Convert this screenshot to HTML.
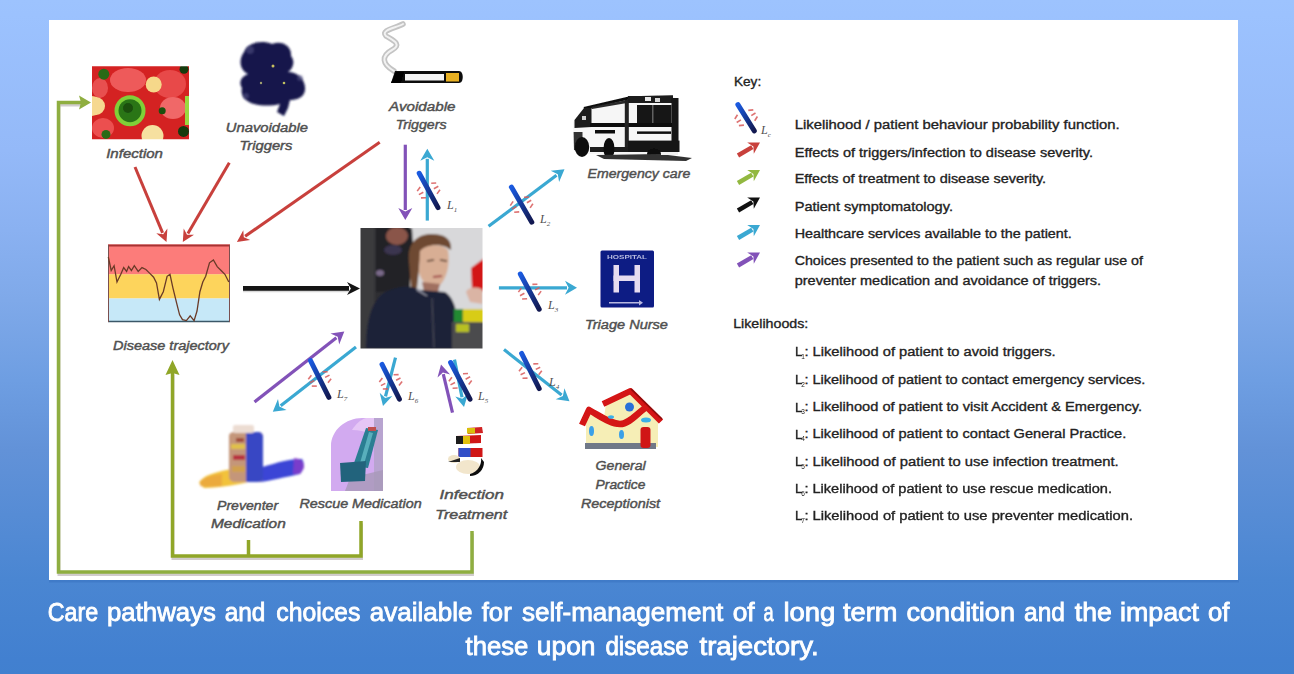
<!DOCTYPE html>
<html><head><meta charset="utf-8">
<style>
html,body{margin:0;padding:0;width:1294px;height:674px;overflow:hidden;}
body{background:linear-gradient(to bottom,#9dc3fe 0%,#9cc2fe 2.2%,#94b9f8 22.3%,#8ab1f1 34.1%,#7fa9e9 44.5%,#6e9ee2 56.4%,#6292d8 66.8%,#4a86d2 86%,#4280d0 97.9%,#4180cf 100%);font-family:"Liberation Sans",sans-serif;}
svg{position:absolute;left:0;top:0;filter:blur(0.45px);}
</style></head><body>
<svg width="1294" height="674" viewBox="0 0 1294 674">
<defs>
<filter id="bl" x="-5%" y="-5%" width="110%" height="110%"><feGaussianBlur stdDeviation="0.6"/></filter><filter id="bl2" x="-10%" y="-10%" width="120%" height="120%"><feGaussianBlur stdDeviation="1"/></filter>
<linearGradient id="lg" x1="0" y1="0" x2="1" y2="1"><stop offset="0" stop-color="#1a5ae0"/><stop offset="1" stop-color="#121850"/></linearGradient>
</defs>
<rect x="49" y="580" width="1190" height="2.5" fill="#2f66b8" opacity="0.35"/><rect x="49" y="20" width="1189" height="560" fill="#fff"/>
<clipPath id="infc"><rect x="92" y="66.3" width="97" height="73"/></clipPath><g clip-path="url(#infc)"><g filter="url(#bl)"><rect x="88" y="62" width="105" height="82" fill="#d42222"/><ellipse cx="128" cy="80" rx="18" ry="12" fill="#ee5a5a"/><ellipse cx="170" cy="84" rx="16" ry="14" fill="#e84848"/><ellipse cx="173" cy="108" rx="13" ry="11" fill="#f06868"/><ellipse cx="103" cy="128" rx="11" ry="10" fill="#ec5050"/><ellipse cx="100" cy="88" rx="8" ry="10" fill="#e85050"/><circle cx="153.7" cy="84.5" r="8" fill="#f6d88a"/><path d="M92,96 A10,10 0 0 1 92,116 Z" fill="#f6d890"/><circle cx="96" cy="106" r="9" fill="#f6d890"/><circle cx="152.5" cy="136" r="11" fill="#f6e0a0"/><circle cx="130" cy="110.7" r="15.5" fill="#80d038"/><circle cx="130" cy="110.7" r="11.5" fill="#2a7418"/><circle cx="128" cy="108" r="5" fill="#1a5010"/><circle cx="103.8" cy="74.2" r="5.5" fill="#2a6a18"/><circle cx="184" cy="69.3" r="4.5" fill="#143a10"/><circle cx="106" cy="134.4" r="4.5" fill="#2a6a18"/><circle cx="183.5" cy="131.4" r="5.5" fill="#143a10"/><circle cx="162.2" cy="110.7" r="3.5" fill="#1a5010"/><rect x="185" y="96" width="4" height="29" fill="#9ad840"/></g></g>
<g fill="#16174c" filter="url(#bl2)"><path d="M244,52 C248,42 262,40 272,44 C282,40 292,46 291,56 C296,62 292,70 288,72 C298,72 306,80 305,90 C304,98 296,100 290,100 L288,108 L284,116 L277,112 L280,104 C272,106 262,106 254,104 C246,102 240,96 242,88 C238,82 242,76 248,74 C240,70 238,60 244,52 Z"/></g><g fill="#5a5a8a" opacity="0.5" filter="url(#bl2)"><circle cx="250" cy="50" r="4"/><circle cx="300" cy="78" r="3"/><circle cx="246" cy="96" r="3"/></g><circle cx="273" cy="66" r="1.5" fill="#c8c060"/><circle cx="261" cy="83" r="1.2" fill="#a0a070"/><circle cx="284" cy="83" r="1.3" fill="#c0c060"/>
<g filter="url(#bl)"><path d="M394,71 C382,64 381,56 392,50 C403,44 392,40 386,36 C380,30 396,28 403,24" stroke="#c4c4c4" stroke-width="5.5" fill="none" stroke-linecap="round"/><path d="M394,71 C382,64 381,56 392,50 C403,44 392,40 386,36 C380,30 396,28 403,24" stroke="#f2f2f2" stroke-width="2" fill="none" stroke-linecap="round"/><path d="M395,71 L459,71 C464,71 464,83 459,83 L391,83 Z" fill="#111"/><rect x="405" y="74" width="39" height="6.5" fill="#f4f4f4"/><rect x="446" y="73" width="13" height="8.5" fill="#e8b020"/><path d="M391,83 L396,72 L404,72 L401,83 Z" fill="#000"/></g>
<g filter="url(#bl)"><path d="M573,122 L584,108 L630,97.5 L673,96.5 L678,100 L679,152 L660,154 L600,154 L588,154 L574,150 Z" fill="#f6f6f6"/><path d="M584,108.5 L630,97.8 L673,96.8" fill="none" stroke="#111" stroke-width="3"/><rect x="628" y="96" width="45" height="7" fill="#1a1a1a"/><rect x="645" y="97" width="6" height="4" fill="#e8e8e8"/><rect x="655" y="98" width="5" height="4" fill="#d8d8d8"/><rect x="671.5" y="98" width="7" height="50" fill="#151515"/><rect x="637" y="105" width="34.5" height="18.5" fill="#141414"/><rect x="652" y="105" width="1.5" height="18.5" fill="#606060"/><path d="M574.5,120 L584,108 L591.5,108 L591.5,127 L574.5,128 Z" fill="#1c1c1c"/><rect x="582" y="116" width="4" height="4" fill="#cfcfcf"/><path d="M591.5,107 L627,100 L627,103 L592,109 Z" fill="#2a2a2a"/><rect x="590" y="123" width="82" height="4" fill="#111"/><rect x="624.8" y="100" width="4" height="52" fill="#202020"/><rect x="595" y="130" width="20" height="3.5" fill="#111"/><rect x="637" y="131.4" width="34" height="2.5" fill="#111"/><rect x="628" y="140.6" width="51.5" height="11.4" fill="#151515"/><rect x="590" y="147" width="38" height="5" fill="#1a1a1a"/><path d="M573.6,132 L582.5,132 L582.5,152 L574,150 Z" fill="#333"/><ellipse cx="582" cy="147" rx="7.2" ry="10" fill="#0c0c0c"/><ellipse cx="609" cy="148.5" rx="5.5" ry="10.5" fill="#0c0c0c"/><ellipse cx="654" cy="154" rx="7" ry="5.5" fill="#0c0c0c"/><path d="M596,155 L660,154 L692,158 L686,161 L604,159 Z" fill="#333"/><rect x="661" y="152" width="17" height="3" fill="#f0f0f0"/></g>
<clipPath id="phc"><rect x="360.5" y="228" width="122" height="120.5"/></clipPath><g clip-path="url(#phc)"><g filter="url(#bl2)"><rect x="355" y="222" width="132" height="132" fill="#2e2e32"/><rect x="410" y="222" width="80" height="88" fill="#d8d8da"/><rect x="355" y="222" width="19.5" height="132" fill="#3a3a3c"/><path d="M376,228 L412,228 L414,262 L408,290 L376,292 Z" fill="#222026"/><ellipse cx="397" cy="236" rx="11" ry="9" fill="#8a5548"/><ellipse cx="393" cy="250" rx="9" ry="5" fill="#3a3450"/><ellipse cx="380" cy="273" rx="4" ry="3" fill="#7a6a8a"/><path d="M409,262 C407,242 418,234 432,234 C446,234 452,240 451,250 L446,247 C438,244 428,245 421,251 L417,288 L411,288 Z" fill="#6e4a30"/><path d="M420,251 C426,244 442,243 448,250 C450,262 448,278 439,286 C430,289 422,284 419,272 Z" fill="#d8ae94"/><path d="M427,261 L434,260 M440,260 L447,261" stroke="#4a3020" stroke-width="1.6"/><path d="M433,277 L442,276" stroke="#a04848" stroke-width="2"/><path d="M422,282 L440,284 L438,292 L424,292 Z" fill="#a07060"/><path d="M366,348.5 C366,320 372,300 385,292 C398,286 410,284 420,290 L445,292 C455,298 458,315 458,330 L456,348.5 Z" fill="#1e2438"/><path d="M416,290 L426,296 L428,296 L418,289 Z" fill="#9a9aaa"/><line x1="432" y1="298" x2="434" y2="348" stroke="#50505e" stroke-width="1"/><path d="M471,268 L487,256 L487,292 L472,290 Z" fill="#d21818"/><path d="M466,292 C469,286 480,287 482.5,290 L482.5,304 L470,302 Z" fill="#dab4a4"/><rect x="454" y="309" width="33" height="13" fill="#d8cc18"/><rect x="454" y="309" width="9" height="13" fill="#208a30"/><rect x="452" y="322" width="35" height="32" fill="#4c4c4e"/><rect x="456" y="324" width="13" height="8" fill="#b8c020"/><rect x="452" y="322" width="35" height="30" fill="#4c4c4e" opacity="0"/></g></g>
<g filter="url(#bl)"><rect x="108" y="244.5" width="122" height="30" fill="#fc7c7a"/><rect x="108" y="274.3" width="122" height="24.2" fill="#fdd45c"/><rect x="108" y="298.5" width="122" height="23.5" fill="#c6e8f8"/><line x1="108" y1="245.5" x2="230" y2="245.5" stroke="#a83232" stroke-width="2"/><line x1="108" y1="321.5" x2="230" y2="321.5" stroke="#3a5868" stroke-width="1.5"/><line x1="108.5" y1="245" x2="108.5" y2="322" stroke="#7a5050" stroke-width="1"/><line x1="229.5" y1="245" x2="229.5" y2="322" stroke="#7a5050" stroke-width="1"/><polyline points="108.3,257.0 111.2,270.5 114.1,265.7 117.0,282.0 120.8,274.3 123.7,267.6 126.6,271.4 128.6,266.6 131.4,270.5 134.3,265.7 138.2,271.4 142.0,267.6 145.9,269.5 149.8,273.4 153.6,277.2 156.5,283.0 159.4,299.4 163.3,291.7 167.1,276.3 170.0,274.3 172.9,287.8 176.7,303.3 179.6,314.8 182.5,319.6 186.4,320.6 190.2,315.8 194.1,320.6 197.0,311.0 199.9,291.7 202.8,282.0 205.7,276.3 209.5,262.8 213.4,259.9 217.2,266.6 221.1,270.5 224.9,274.3 228.8,282.0" fill="none" stroke="#6a3a28" stroke-width="1.3"/></g>
<g filter="url(#bl)"><rect x="600.5" y="250.5" width="53.5" height="57" fill="#0e1a84" rx="1.5"/><rect x="613.5" y="265" width="5.5" height="27.5" fill="#e6dcf0"/><rect x="634.5" y="265" width="5.5" height="27.5" fill="#e6dcf0"/><rect x="613.5" y="275.5" width="26" height="5.5" fill="#e6dcf0"/><text x="607" y="258.5" font-family="Liberation Sans" font-weight="bold" font-size="6" fill="#b8bce0" textLength="40" lengthAdjust="spacingAndGlyphs">HOSPITAL</text><rect x="609" y="302" width="30" height="1.5" fill="#b8b8e0"/><polygon points="639,300 643,302.7 639,305.5" fill="#b8b8e0"/></g>
<g filter="url(#bl)"><path d="M586,447 L586,418 L590,412 L620,425 L646,410 L658,421 L658,447 Z" fill="#f6eeb6"/><path d="M606,404 L630.5,392 L656,420 L646,410 L620,425 L604,417 Z" fill="#f6eeb6"/><rect x="585" y="443" width="71" height="6" fill="#707888"/><path d="M603,404 L630.5,391 L661,421.5" fill="none" stroke="#d41212" stroke-width="6" stroke-linejoin="round"/><path d="M582,425 L589,410 C600,416 610,424 620,424 C630,424 638,412 648,406" fill="none" stroke="#d41212" stroke-width="6.5" stroke-linejoin="round"/><path d="M631,389 L662,419" fill="none" stroke="#8a0808" stroke-width="1.5"/><rect x="640.5" y="427" width="10" height="21" fill="#d01818" rx="3"/><ellipse cx="591.5" cy="431" rx="2.5" ry="5" fill="#3aa0e8"/><ellipse cx="621.5" cy="434.5" rx="2.5" ry="4.5" fill="#3aa0e8"/><ellipse cx="629.5" cy="407" rx="4.5" ry="4.5" fill="#2a70d8"/><ellipse cx="646" cy="420" rx="5" ry="2.5" fill="#3ab0e8"/><ellipse cx="611" cy="417" rx="3" ry="1.8" fill="#3ab0e8"/></g>
<g filter="url(#bl2)"><path d="M199,483 C203,474 222,470 250,466 L262,478 C245,484 220,488 204,488 Z" fill="#f2c23a"/><path d="M200,482 C204,477 212,475 222,474 L222,486 C212,487 204,487 200,486 Z" fill="#e8a040" opacity="0.7"/><path d="M256,469 C272,464 290,458 302,459 C305,463 304,470 300,474 C285,477 270,481 260,482 Z" fill="#3a44d6"/><path d="M294,458 C300,458 305,462 304,468 L300,474 L293,474 Z" fill="#8a3cc8" opacity="0.8"/><path d="M229,436 C229,433 232,432 234,432 L258,432 C261,432 263,434 263,437 L263,478 C263,481 260,482 257,482 L235,482 C232,482 229,480 229,477 Z" fill="#c4967a"/><path d="M246,432 L258,432 C261,432 263,434 263,437 L263,478 C263,481 260,482 257,482 L246,482 Z" fill="#3846c4"/><rect x="231" y="444" width="14" height="5" fill="#e0c048"/><rect x="233" y="455" width="12" height="5" fill="#b83040"/><rect x="232" y="466" width="13" height="6" fill="#d0a050"/><rect x="236" y="438" width="8" height="4" fill="#a04838"/><rect x="233" y="425" width="21" height="8" fill="#ecdcd2" rx="2"/></g>
<g filter="url(#bl)"><rect x="331" y="418" width="52" height="73" fill="#d2aaf0"/><path d="M331,418 L362,418 C346,418 331,430 331,446 Z" fill="#ffffff"/><path d="M366,418 L383,418 L383,445 C376,436 366,430 352,430 C356,424 360,420 366,418 Z" fill="#e6c6f6"/><rect x="374" y="418" width="9" height="73" fill="#b8a4d0"/><path d="M350,478 L383,470 L383,491 L345,491 Z" fill="#a898b8" opacity="0.8"/><path d="M366,428 L378,430 L368,468 L353,466 Z" fill="#2a7e92"/><path d="M369,432 L373,433 L364,464 L360,463 Z" fill="#7ad0d8" opacity="0.6"/><path d="M340,463 L366,461 L365,481 L341,482 Z" fill="#24647c"/><rect x="368" y="427" width="8" height="4" fill="#c05050"/></g>
<g filter="url(#bl)"><path d="M467,428 L482,427 L483,433 L468,434 Z" fill="#d02020"/><rect x="467" y="428" width="8" height="5.5" fill="#d8c010"/><path d="M456,436 L481,435 L481,443 L456,444 Z" fill="#d01818"/><rect x="456" y="436" width="8" height="8" fill="#1a1a1a"/><rect x="463" y="436" width="7" height="8" fill="#e0c010"/><rect x="458.5" y="448" width="24" height="9" fill="#d01818"/><rect x="458.5" y="448" width="12" height="9" fill="#3050c8"/><ellipse cx="454" cy="459" rx="6" ry="4" fill="#f0e4c8"/><path d="M448,462 L460,458 L460,462 Z" fill="#222"/><ellipse cx="468" cy="467" rx="12" ry="7" fill="#f2e6cc"/><path d="M470,474 C478,472 482,464 481,458 L484,462 C484,470 478,476 470,476 Z" fill="#111"/></g>
<g transform="translate(0.5,2.5)" opacity="0.45"><polyline points="472,531 472,572 58.5,572 58.5,102.5 82,102.5" fill="none" stroke="#9a9090" stroke-width="3"/><polyline points="361,521 361,556 172.5,556 172.5,372" fill="none" stroke="#9a9090" stroke-width="3"/></g>
<polyline points="472,531 472,572 58.5,572 58.5,102.5 82,102.5" fill="none" stroke="#8fae40" stroke-width="3.5"/>
<polygon points="91,102.5 79,95.5 81,102.5 79,109.5" fill="#8fae40"/>
<polyline points="361,521 361,556 172.5,556 172.5,372" fill="none" stroke="#90a628" stroke-width="3.5"/>
<polyline points="248.5,540 248.5,556" fill="none" stroke="#90a628" stroke-width="3.5"/>
<polygon points="172.5,360 165.5,375 172.5,373 179.5,375" fill="#90a628"/>
<line x1="135.0" y1="167.0" x2="162.6" y2="232.8" stroke="#c8403c" stroke-width="3" />
<polygon points="166.5,242.0 156.3,233.3 163.2,234.3 167.4,228.6" fill="#c8403c"/>
<line x1="229.3" y1="162.7" x2="187.9" y2="233.4" stroke="#c8403c" stroke-width="3" />
<polygon points="182.8,242.0 183.7,228.6 187.0,234.8 194.0,234.7" fill="#c8403c"/>
<line x1="379.7" y1="142.2" x2="245.1" y2="236.3" stroke="#c8403c" stroke-width="3" />
<polygon points="236.9,242.0 243.3,230.2 243.8,237.2 250.2,240.0" fill="#c8403c"/>
<line x1="243" y1="291" x2="350" y2="291" stroke="#c8c8c8" stroke-width="2.5" opacity="0.7"/>
<line x1="243.0" y1="288.4" x2="349.0" y2="288.4" stroke="#151515" stroke-width="4.8" />
<polygon points="360.0,288.4 347.0,294.9 350.9,288.4 347.0,281.9" fill="#151515"/>
<line x1="405.3" y1="144.7" x2="405.3" y2="210.0" stroke="#8252b8" stroke-width="3.2" />
<polygon points="405.3,220.0 398.3,208.0 405.3,211.6 412.3,208.0" fill="#8252b8"/>
<line x1="254.5" y1="402.0" x2="336.4" y2="337.8" stroke="#8252b8" stroke-width="3.2" />
<polygon points="344.3,331.6 339.2,344.5 337.7,336.8 330.5,333.5" fill="#8252b8"/>
<line x1="452.5" y1="412.7" x2="443.3" y2="374.1" stroke="#8252b8" stroke-width="3.2" />
<polygon points="441.0,364.4 450.1,374.6 442.9,372.6 437.5,377.6" fill="#8252b8"/>
<line x1="427.3" y1="220.6" x2="427.3" y2="158.8" stroke="#3aa8d2" stroke-width="3.2" />
<polygon points="427.3,148.8 434.3,160.8 427.3,157.2 420.3,160.8" fill="#3aa8d2"/>
<line x1="488.6" y1="226.3" x2="556.5" y2="175.2" stroke="#3aa8d2" stroke-width="3.2" />
<polygon points="564.5,169.2 559.1,182.0 557.8,174.2 550.7,170.8" fill="#3aa8d2"/>
<line x1="498.9" y1="287.8" x2="567.0" y2="287.8" stroke="#3aa8d2" stroke-width="3.2" />
<polygon points="577.0,287.8 565.0,294.8 568.6,287.8 565.0,280.8" fill="#3aa8d2"/>
<line x1="504.0" y1="349.6" x2="561.6" y2="395.0" stroke="#3aa8d2" stroke-width="3.2" />
<polygon points="569.5,401.2 555.7,399.3 562.9,396.0 564.4,388.3" fill="#3aa8d2"/>
<line x1="356.0" y1="347.0" x2="280.7" y2="405.7" stroke="#3aa8d2" stroke-width="3.2" />
<polygon points="272.8,411.8 278.0,398.9 279.4,406.6 286.6,409.9" fill="#3aa8d2"/>
<line x1="395.5" y1="357.7" x2="385.5" y2="396.3" stroke="#3aa8d2" stroke-width="3.2" />
<polygon points="383.0,406.0 379.7,392.8 385.1,397.9 392.3,396.0" fill="#3aa8d2"/>
<line x1="454.5" y1="359.6" x2="462.0" y2="397.2" stroke="#3aa8d2" stroke-width="3.2" />
<polygon points="464.0,407.0 455.3,396.5 462.3,398.8 468.0,394.0" fill="#3aa8d2"/>
<line x1="420.2" y1="187.0" x2="417.2" y2="191.1" stroke="#d85a5a" stroke-width="1.6" opacity="0.85"/>
<line x1="423.3" y1="192.2" x2="418.9" y2="194.6" stroke="#d85a5a" stroke-width="1.6" opacity="0.85"/>
<line x1="426.0" y1="197.7" x2="421.0" y2="197.9" stroke="#d85a5a" stroke-width="1.6" opacity="0.85"/>
<line x1="436.2" y1="183.0" x2="431.2" y2="183.2" stroke="#d85a5a" stroke-width="1.6" opacity="0.85"/>
<line x1="438.3" y1="186.3" x2="433.9" y2="188.7" stroke="#d85a5a" stroke-width="1.6" opacity="0.85"/>
<line x1="440.0" y1="189.8" x2="437.0" y2="193.9" stroke="#d85a5a" stroke-width="1.6" opacity="0.85"/>
<line x1="419.2" y1="173.3" x2="438.0" y2="207.6" stroke="url(#lg)" stroke-width="5" stroke-linecap="round"/>
<text x="447" y="209" font-family="Liberation Serif" font-style="italic" font-size="12" fill="#505050">L<tspan font-size="7" dy="2.5">1</tspan></text>
<line x1="513.1" y1="201.4" x2="510.3" y2="205.6" stroke="#d85a5a" stroke-width="1.6" opacity="0.85"/>
<line x1="516.3" y1="206.5" x2="512.0" y2="209.1" stroke="#d85a5a" stroke-width="1.6" opacity="0.85"/>
<line x1="519.2" y1="211.9" x2="514.2" y2="212.3" stroke="#d85a5a" stroke-width="1.6" opacity="0.85"/>
<line x1="529.0" y1="197.0" x2="524.0" y2="197.4" stroke="#d85a5a" stroke-width="1.6" opacity="0.85"/>
<line x1="531.2" y1="200.2" x2="526.9" y2="202.8" stroke="#d85a5a" stroke-width="1.6" opacity="0.85"/>
<line x1="532.9" y1="203.7" x2="530.1" y2="207.9" stroke="#d85a5a" stroke-width="1.6" opacity="0.85"/>
<line x1="511.4" y1="187.1" x2="531.8" y2="222.2" stroke="url(#lg)" stroke-width="5" stroke-linecap="round"/>
<text x="540" y="223" font-family="Liberation Serif" font-style="italic" font-size="12" fill="#505050">L<tspan font-size="7" dy="2.5">2</tspan></text>
<line x1="521.3" y1="288.1" x2="518.4" y2="292.1" stroke="#d85a5a" stroke-width="1.6" opacity="0.85"/>
<line x1="524.4" y1="293.3" x2="520.0" y2="295.7" stroke="#d85a5a" stroke-width="1.6" opacity="0.85"/>
<line x1="527.1" y1="298.8" x2="522.1" y2="299.0" stroke="#d85a5a" stroke-width="1.6" opacity="0.85"/>
<line x1="537.4" y1="284.2" x2="532.4" y2="284.4" stroke="#d85a5a" stroke-width="1.6" opacity="0.85"/>
<line x1="539.5" y1="287.5" x2="535.1" y2="289.9" stroke="#d85a5a" stroke-width="1.6" opacity="0.85"/>
<line x1="541.1" y1="291.1" x2="538.2" y2="295.1" stroke="#d85a5a" stroke-width="1.6" opacity="0.85"/>
<line x1="520.3" y1="274.0" x2="539.2" y2="309.2" stroke="url(#lg)" stroke-width="5" stroke-linecap="round"/>
<text x="548" y="309" font-family="Liberation Serif" font-style="italic" font-size="12" fill="#505050">L<tspan font-size="7" dy="2.5">3</tspan></text>
<line x1="522.1" y1="367.2" x2="519.0" y2="371.2" stroke="#d85a5a" stroke-width="1.6" opacity="0.85"/>
<line x1="525.0" y1="372.6" x2="520.6" y2="374.8" stroke="#d85a5a" stroke-width="1.6" opacity="0.85"/>
<line x1="527.5" y1="378.1" x2="522.5" y2="378.2" stroke="#d85a5a" stroke-width="1.6" opacity="0.85"/>
<line x1="538.3" y1="363.8" x2="533.3" y2="363.9" stroke="#d85a5a" stroke-width="1.6" opacity="0.85"/>
<line x1="540.2" y1="367.2" x2="535.8" y2="369.4" stroke="#d85a5a" stroke-width="1.6" opacity="0.85"/>
<line x1="541.8" y1="370.8" x2="538.7" y2="374.8" stroke="#d85a5a" stroke-width="1.6" opacity="0.85"/>
<line x1="521.6" y1="353.4" x2="539.2" y2="388.6" stroke="url(#lg)" stroke-width="5" stroke-linecap="round"/>
<text x="549" y="386" font-family="Liberation Serif" font-style="italic" font-size="12" fill="#505050">L<tspan font-size="7" dy="2.5">4</tspan></text>
<line x1="311.4" y1="375.2" x2="308.3" y2="379.2" stroke="#d85a5a" stroke-width="1.6" opacity="0.85"/>
<line x1="314.3" y1="380.5" x2="309.9" y2="382.8" stroke="#d85a5a" stroke-width="1.6" opacity="0.85"/>
<line x1="316.8" y1="386.1" x2="311.8" y2="386.1" stroke="#d85a5a" stroke-width="1.6" opacity="0.85"/>
<line x1="327.6" y1="371.8" x2="322.6" y2="371.8" stroke="#d85a5a" stroke-width="1.6" opacity="0.85"/>
<line x1="329.5" y1="375.1" x2="325.1" y2="377.4" stroke="#d85a5a" stroke-width="1.6" opacity="0.85"/>
<line x1="331.1" y1="378.7" x2="328.0" y2="382.7" stroke="#d85a5a" stroke-width="1.6" opacity="0.85"/>
<line x1="310.5" y1="360.6" x2="328.9" y2="397.3" stroke="url(#lg)" stroke-width="5" stroke-linecap="round"/>
<text x="337" y="398" font-family="Liberation Serif" font-style="italic" font-size="12" fill="#505050">L<tspan font-size="7" dy="2.5">7</tspan></text>
<line x1="382.4" y1="378.0" x2="379.3" y2="382.0" stroke="#d85a5a" stroke-width="1.6" opacity="0.85"/>
<line x1="385.3" y1="383.4" x2="380.9" y2="385.6" stroke="#d85a5a" stroke-width="1.6" opacity="0.85"/>
<line x1="387.8" y1="388.9" x2="382.8" y2="389.0" stroke="#d85a5a" stroke-width="1.6" opacity="0.85"/>
<line x1="398.6" y1="374.6" x2="393.6" y2="374.7" stroke="#d85a5a" stroke-width="1.6" opacity="0.85"/>
<line x1="400.5" y1="378.0" x2="396.1" y2="380.2" stroke="#d85a5a" stroke-width="1.6" opacity="0.85"/>
<line x1="402.1" y1="381.6" x2="399.0" y2="385.6" stroke="#d85a5a" stroke-width="1.6" opacity="0.85"/>
<line x1="382.0" y1="364.4" x2="399.4" y2="399.2" stroke="url(#lg)" stroke-width="5" stroke-linecap="round"/>
<text x="408" y="400" font-family="Liberation Serif" font-style="italic" font-size="12" fill="#505050">L<tspan font-size="7" dy="2.5">6</tspan></text>
<line x1="451.9" y1="377.3" x2="448.9" y2="381.3" stroke="#d85a5a" stroke-width="1.6" opacity="0.85"/>
<line x1="455.0" y1="382.5" x2="450.5" y2="384.9" stroke="#d85a5a" stroke-width="1.6" opacity="0.85"/>
<line x1="457.6" y1="388.0" x2="452.6" y2="388.2" stroke="#d85a5a" stroke-width="1.6" opacity="0.85"/>
<line x1="468.0" y1="373.5" x2="463.0" y2="373.7" stroke="#d85a5a" stroke-width="1.6" opacity="0.85"/>
<line x1="470.1" y1="376.8" x2="465.6" y2="379.2" stroke="#d85a5a" stroke-width="1.6" opacity="0.85"/>
<line x1="471.7" y1="380.4" x2="468.7" y2="384.4" stroke="#d85a5a" stroke-width="1.6" opacity="0.85"/>
<line x1="450.6" y1="362.5" x2="470.0" y2="399.2" stroke="url(#lg)" stroke-width="5" stroke-linecap="round"/>
<text x="478" y="400" font-family="Liberation Serif" font-style="italic" font-size="12" fill="#505050">L<tspan font-size="7" dy="2.5">5</tspan></text>
<text transform="matrix(0.9315 0 0 1 -45.45 0)" x="100" y="621" font-family="Liberation Sans" font-size="25" font-weight="normal" font-style="normal" fill="#fff" stroke="#fff" stroke-width="0.8">Care</text>
<text transform="matrix(1.0327 0 0 1 3.70 0)" x="100" y="621" font-family="Liberation Sans" font-size="25" font-weight="normal" font-style="normal" fill="#fff" stroke="#fff" stroke-width="0.8">pathways</text>
<text transform="matrix(0.9756 0 0 1 127.14 0)" x="100" y="621" font-family="Liberation Sans" font-size="25" font-weight="normal" font-style="normal" fill="#fff" stroke="#fff" stroke-width="0.8">and</text>
<text transform="matrix(0.9918 0 0 1 177.12 0)" x="100" y="621" font-family="Liberation Sans" font-size="25" font-weight="normal" font-style="normal" fill="#fff" stroke="#fff" stroke-width="0.8">choices</text>
<text transform="matrix(1.0398 0 0 1 265.82 0)" x="100" y="621" font-family="Liberation Sans" font-size="25" font-weight="normal" font-style="normal" fill="#fff" stroke="#fff" stroke-width="0.8">available</text>
<text transform="matrix(1.0300 0 0 1 378.70 0)" x="100" y="621" font-family="Liberation Sans" font-size="25" font-weight="normal" font-style="normal" fill="#fff" stroke="#fff" stroke-width="0.8">for</text>
<text transform="matrix(1.0428 0 0 1 417.62 0)" x="100" y="621" font-family="Liberation Sans" font-size="25" font-weight="normal" font-style="normal" fill="#fff" stroke="#fff" stroke-width="0.8">self-management</text>
<text transform="matrix(1.0545 0 0 1 627.25 0)" x="100" y="621" font-family="Liberation Sans" font-size="25" font-weight="normal" font-style="normal" fill="#fff" stroke="#fff" stroke-width="0.8">of</text>
<text transform="matrix(0.7267 0 0 1 690.93 0)" x="100" y="621" font-family="Liberation Sans" font-size="25" font-weight="normal" font-style="normal" fill="#fff" stroke="#fff" stroke-width="0.8">a</text>
<text transform="matrix(1.1000 0 0 1 673.40 0)" x="100" y="621" font-family="Liberation Sans" font-size="25" font-weight="normal" font-style="normal" fill="#fff" stroke="#fff" stroke-width="0.8">long</text>
<text transform="matrix(1.0898 0 0 1 734.02 0)" x="100" y="621" font-family="Liberation Sans" font-size="25" font-weight="normal" font-style="normal" fill="#fff" stroke="#fff" stroke-width="0.8">term</text>
<text transform="matrix(1.0848 0 0 1 798.02 0)" x="100" y="621" font-family="Liberation Sans" font-size="25" font-weight="normal" font-style="normal" fill="#fff" stroke="#fff" stroke-width="0.8">condition</text>
<text transform="matrix(0.9805 0 0 1 926.05 0)" x="100" y="621" font-family="Liberation Sans" font-size="25" font-weight="normal" font-style="normal" fill="#fff" stroke="#fff" stroke-width="0.8">and</text>
<text transform="matrix(1.0647 0 0 1 968.33 0)" x="100" y="621" font-family="Liberation Sans" font-size="25" font-weight="normal" font-style="normal" fill="#fff" stroke="#fff" stroke-width="0.8">the</text>
<text transform="matrix(1.0740 0 0 1 1012.53 0)" x="100" y="621" font-family="Liberation Sans" font-size="25" font-weight="normal" font-style="normal" fill="#fff" stroke="#fff" stroke-width="0.8">impact</text>
<text transform="matrix(1.0273 0 0 1 1105.27 0)" x="100" y="621" font-family="Liberation Sans" font-size="25" font-weight="normal" font-style="normal" fill="#fff" stroke="#fff" stroke-width="0.8">of</text>
<text transform="matrix(1.0262 0 0 1 362.98 0)" x="100" y="654.7" font-family="Liberation Sans" font-size="25" font-weight="normal" font-style="normal" fill="#fff" stroke="#fff" stroke-width="0.8">these</text>
<text transform="matrix(1.0556 0 0 1 431.29 0)" x="100" y="654.7" font-family="Liberation Sans" font-size="25" font-weight="normal" font-style="normal" fill="#fff" stroke="#fff" stroke-width="0.8">upon</text>
<text transform="matrix(0.9663 0 0 1 508.77 0)" x="100" y="654.7" font-family="Liberation Sans" font-size="25" font-weight="normal" font-style="normal" fill="#fff" stroke="#fff" stroke-width="0.8">disease</text>
<text transform="matrix(1.1047 0 0 1 589.03 0)" x="100" y="654.7" font-family="Liberation Sans" font-size="25" font-weight="normal" font-style="normal" fill="#fff" stroke="#fff" stroke-width="0.8">trajectory.</text>
<text transform="matrix(1.0269 0 0 1 631.21 0)" x="100" y="85.6" font-family="Liberation Sans" font-size="13.3" font-weight="normal" font-style="normal" fill="#222" stroke="#222" stroke-width="0.35">Key:</text>
<text transform="matrix(1.1168 0 0 1 683.02 0)" x="100" y="129.2" font-family="Liberation Sans" font-size="13.3" font-weight="normal" font-style="normal" fill="#222" stroke="#222" stroke-width="0.35">Likelihood / patient behaviour probability function.</text>
<text transform="matrix(1.0941 0 0 1 685.29 0)" x="100" y="156.7" font-family="Liberation Sans" font-size="13.3" font-weight="normal" font-style="normal" fill="#222" stroke="#222" stroke-width="0.35">Effects of triggers/infection to disease severity.</text>
<text transform="matrix(1.0861 0 0 1 686.09 0)" x="100" y="183" font-family="Liberation Sans" font-size="13.3" font-weight="normal" font-style="normal" fill="#222" stroke="#222" stroke-width="0.35">Effects of treatment to disease severity.</text>
<text transform="matrix(1.0944 0 0 1 685.26 0)" x="100" y="211" font-family="Liberation Sans" font-size="13.3" font-weight="normal" font-style="normal" fill="#222" stroke="#222" stroke-width="0.35">Patient symptomatology.</text>
<text transform="matrix(1.0778 0 0 1 686.92 0)" x="100" y="238" font-family="Liberation Sans" font-size="13.3" font-weight="normal" font-style="normal" fill="#222" stroke="#222" stroke-width="0.35">Healthcare services available to the patient.</text>
<text transform="matrix(1.0694 0 0 1 687.76 0)" x="100" y="265.3" font-family="Liberation Sans" font-size="13.3" font-weight="normal" font-style="normal" fill="#222" stroke="#222" stroke-width="0.35">Choices presented to the patient such as regular use of</text>
<text transform="matrix(1.0921 0 0 1 685.49 0)" x="100" y="285.5" font-family="Liberation Sans" font-size="13.3" font-weight="normal" font-style="normal" fill="#222" stroke="#222" stroke-width="0.35">preventer medication and avoidance of triggers.</text>
<text transform="matrix(1.0700 0 0 1 626.20 0)" x="100" y="328.5" font-family="Liberation Sans" font-size="13.3" font-weight="normal" font-style="normal" fill="#222" stroke="#222" stroke-width="0.35">Likelihoods:</text>
<text transform="matrix(1.1040 0 0 1 694.00 0)" x="100" y="356.2" font-family="Liberation Sans" font-size="13.3" font-weight="normal" font-style="normal" fill="#222" stroke="#222" stroke-width="0.35">: Likelihood of patient to avoid triggers.</text>
<text transform="matrix(1.0907 0 0 1 695.34 0)" x="100" y="384" font-family="Liberation Sans" font-size="13.3" font-weight="normal" font-style="normal" fill="#222" stroke="#222" stroke-width="0.35">: Likelihood of patient to contact emergency services.</text>
<text transform="matrix(1.0990 0 0 1 694.50 0)" x="100" y="411.5" font-family="Liberation Sans" font-size="13.3" font-weight="normal" font-style="normal" fill="#222" stroke="#222" stroke-width="0.35">: Likelihood of patient to visit Accident &amp; Emergency.</text>
<text transform="matrix(1.0973 0 0 1 694.68 0)" x="100" y="438.5" font-family="Liberation Sans" font-size="13.3" font-weight="normal" font-style="normal" fill="#222" stroke="#222" stroke-width="0.35">: Likelihood of patient to contact General Practice.</text>
<text transform="matrix(1.1142 0 0 1 692.96 0)" x="100" y="466" font-family="Liberation Sans" font-size="13.3" font-weight="normal" font-style="normal" fill="#222" stroke="#222" stroke-width="0.35">: Likelihood of patient to use infection treatment.</text>
<text transform="matrix(1.0964 0 0 1 694.76 0)" x="100" y="493.3" font-family="Liberation Sans" font-size="13.3" font-weight="normal" font-style="normal" fill="#222" stroke="#222" stroke-width="0.35">: Likelihood of patient to use rescue medication.</text>
<text transform="matrix(1.1068 0 0 1 693.72 0)" x="100" y="520.3" font-family="Liberation Sans" font-size="13.3" font-weight="normal" font-style="normal" fill="#222" stroke="#222" stroke-width="0.35">: Likelihood of patient to use preventer medication.</text>
<text transform="matrix(1.1137 0 0 1 -5.17 0)" x="100" y="158.2" font-family="Liberation Sans" font-size="13.5" font-weight="normal" font-style="italic" fill="#505050" stroke="#505050" stroke-width="0.45">Infection</text>
<text transform="matrix(1.0973 0 0 1 116.07 0)" x="100" y="131.6" font-family="Liberation Sans" font-size="13.5" font-weight="normal" font-style="italic" fill="#505050" stroke="#505050" stroke-width="0.45">Unavoidable</text>
<text transform="matrix(1.0938 0 0 1 130.03 0)" x="100" y="150.5" font-family="Liberation Sans" font-size="13.5" font-weight="normal" font-style="italic" fill="#505050" stroke="#505050" stroke-width="0.45">Triggers</text>
<text transform="matrix(1.1250 0 0 1 276.62 0)" x="100" y="110.8" font-family="Liberation Sans" font-size="13.5" font-weight="normal" font-style="italic" fill="#505050" stroke="#505050" stroke-width="0.45">Avoidable</text>
<text transform="matrix(1.0500 0 0 1 290.65 0)" x="100" y="129.5" font-family="Liberation Sans" font-size="13.5" font-weight="normal" font-style="italic" fill="#505050" stroke="#505050" stroke-width="0.45">Triggers</text>
<text transform="matrix(1.0449 0 0 1 483.11 0)" x="100" y="178.5" font-family="Liberation Sans" font-size="13.5" font-weight="normal" font-style="italic" fill="#505050" stroke="#505050" stroke-width="0.45">Emergency care</text>
<text transform="matrix(1.0734 0 0 1 5.66 0)" x="100" y="350" font-family="Liberation Sans" font-size="13.5" font-weight="normal" font-style="italic" fill="#505050" stroke="#505050" stroke-width="0.45">Disease trajectory</text>
<text transform="matrix(1.0789 0 0 1 477.03 0)" x="100" y="329" font-family="Liberation Sans" font-size="13.5" font-weight="normal" font-style="italic" fill="#505050" stroke="#505050" stroke-width="0.45">Triage Nurse</text>
<text transform="matrix(1.0449 0 0 1 491.11 0)" x="100" y="470" font-family="Liberation Sans" font-size="13.5" font-weight="normal" font-style="italic" fill="#505050" stroke="#505050" stroke-width="0.45">General</text>
<text transform="matrix(1.0224 0 0 1 493.36 0)" x="100" y="489" font-family="Liberation Sans" font-size="13.5" font-weight="normal" font-style="italic" fill="#505050" stroke="#505050" stroke-width="0.45">Practice</text>
<text transform="matrix(1.0667 0 0 1 474.33 0)" x="100" y="508" font-family="Liberation Sans" font-size="13.5" font-weight="normal" font-style="italic" fill="#505050" stroke="#505050" stroke-width="0.45">Receptionist</text>
<text transform="matrix(1.0450 0 0 1 112.50 0)" x="100" y="510" font-family="Liberation Sans" font-size="13.5" font-weight="normal" font-style="italic" fill="#505050" stroke="#505050" stroke-width="0.45">Preventer</text>
<text transform="matrix(1.1462 0 0 1 96.38 0)" x="100" y="528.5" font-family="Liberation Sans" font-size="13.5" font-weight="normal" font-style="italic" fill="#505050" stroke="#505050" stroke-width="0.45">Medication</text>
<text transform="matrix(1.0661 0 0 1 192.79 0)" x="100" y="508" font-family="Liberation Sans" font-size="13.5" font-weight="normal" font-style="italic" fill="#505050" stroke="#505050" stroke-width="0.45">Rescue Medication</text>
<text transform="matrix(1.2627 0 0 1 313.33 0)" x="100" y="499" font-family="Liberation Sans" font-size="13.5" font-weight="normal" font-style="italic" fill="#505050" stroke="#505050" stroke-width="0.45">Infection</text>
<text transform="matrix(1.1885 0 0 1 316.46 0)" x="100" y="519.5" font-family="Liberation Sans" font-size="13.5" font-weight="normal" font-style="italic" fill="#505050" stroke="#505050" stroke-width="0.45">Treatment</text>
<text x="795" y="356.2" font-family="Liberation Sans" font-size="13.3" fill="#222" stroke="#222" stroke-width="0.35">L</text>
<text x="801.2" y="358.7" font-family="Liberation Sans" font-size="6.5" fill="#222">1</text>
<text x="795" y="384" font-family="Liberation Sans" font-size="13.3" fill="#222" stroke="#222" stroke-width="0.35">L</text>
<text x="801.2" y="386.5" font-family="Liberation Sans" font-size="6.5" fill="#222">2</text>
<text x="795" y="411.5" font-family="Liberation Sans" font-size="13.3" fill="#222" stroke="#222" stroke-width="0.35">L</text>
<text x="801.2" y="414.0" font-family="Liberation Sans" font-size="6.5" fill="#222">3</text>
<text x="795" y="438.5" font-family="Liberation Sans" font-size="13.3" fill="#222" stroke="#222" stroke-width="0.35">L</text>
<text x="801.2" y="441.0" font-family="Liberation Sans" font-size="6.5" fill="#222">4</text>
<text x="795" y="466" font-family="Liberation Sans" font-size="13.3" fill="#222" stroke="#222" stroke-width="0.35">L</text>
<text x="801.2" y="468.5" font-family="Liberation Sans" font-size="6.5" fill="#222">5</text>
<text x="795" y="493.3" font-family="Liberation Sans" font-size="13.3" fill="#222" stroke="#222" stroke-width="0.35">L</text>
<text x="801.2" y="495.8" font-family="Liberation Sans" font-size="6.5" fill="#222">6</text>
<text x="795" y="520.3" font-family="Liberation Sans" font-size="13.3" fill="#222" stroke="#222" stroke-width="0.35">L</text>
<text x="801.2" y="522.8" font-family="Liberation Sans" font-size="6.5" fill="#222">7</text>
<line x1="737.5" y1="114.8" x2="734.8" y2="119.0" stroke="#d85a5a" stroke-width="1.6" opacity="0.85"/>
<line x1="740.9" y1="119.8" x2="736.7" y2="122.5" stroke="#d85a5a" stroke-width="1.6" opacity="0.85"/>
<line x1="743.9" y1="125.1" x2="738.9" y2="125.6" stroke="#d85a5a" stroke-width="1.6" opacity="0.85"/>
<line x1="753.3" y1="109.9" x2="748.3" y2="110.4" stroke="#d85a5a" stroke-width="1.6" opacity="0.85"/>
<line x1="755.5" y1="113.0" x2="751.3" y2="115.7" stroke="#d85a5a" stroke-width="1.6" opacity="0.85"/>
<line x1="757.4" y1="116.5" x2="754.7" y2="120.7" stroke="#d85a5a" stroke-width="1.6" opacity="0.85"/>
<line x1="737.9" y1="104.6" x2="754.3" y2="130.9" stroke="url(#lg)" stroke-width="5" stroke-linecap="round"/>
<text x="761" y="134" font-family="Liberation Serif" font-style="italic" font-size="12" fill="#505050">L<tspan font-size="7" dy="2.5">c</tspan></text>
<line x1="738.0" y1="155.5" x2="752.3" y2="147.1" stroke="#c8403c" stroke-width="4.5" />
<polygon points="760.0,142.5 753.8,153.7 753.4,146.4 747.2,142.5" fill="#c8403c"/>
<line x1="738.0" y1="183.0" x2="752.3" y2="174.6" stroke="#92b840" stroke-width="4.5" />
<polygon points="760.0,170.0 753.8,181.2 753.4,173.9 747.2,170.0" fill="#92b840"/>
<line x1="738.0" y1="210.5" x2="752.3" y2="202.1" stroke="#111" stroke-width="4.5" />
<polygon points="760.0,197.5 753.8,208.7 753.4,201.4 747.2,197.5" fill="#111"/>
<line x1="738.0" y1="238.0" x2="752.3" y2="229.6" stroke="#3aa8d2" stroke-width="4.5" />
<polygon points="760.0,225.0 753.8,236.2 753.4,228.9 747.2,225.0" fill="#3aa8d2"/>
<line x1="738.0" y1="265.5" x2="752.3" y2="257.1" stroke="#8252b8" stroke-width="4.5" />
<polygon points="760.0,252.5 753.8,263.7 753.4,256.4 747.2,252.5" fill="#8252b8"/>
</svg>
</body></html>
